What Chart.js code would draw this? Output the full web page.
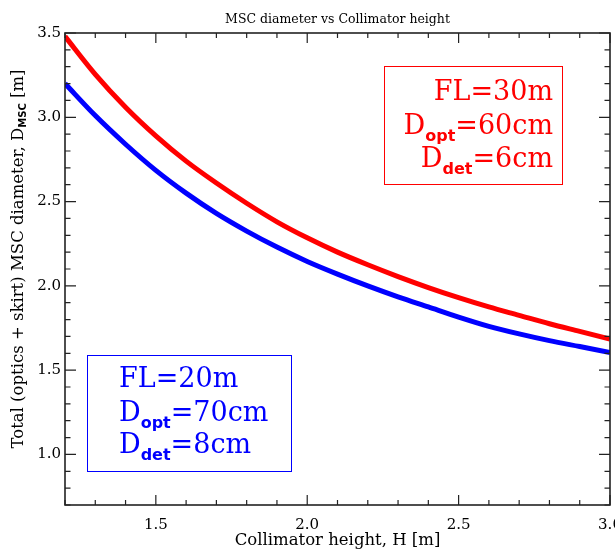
<!DOCTYPE html>
<html>
<head>
<meta charset="utf-8">
<title>MSC diameter vs Collimator height</title>
<script src="https://cdn.jsdelivr.net/npm/chart.js@4.4.0/dist/chart.umd.min.js"></script>
<style>
  html, body { margin: 0; padding: 0; background: #fff; overflow: hidden; }
</style>
</head>
<body>
<canvas id="mscChart" width="615" height="549"></canvas>
<script>
// collimator height H [m]
const heights = [1.2, 1.3, 1.4, 1.5, 1.6, 1.7, 1.8, 1.9, 2.0, 2.1,
                 2.2, 2.3, 2.4, 2.5, 2.6, 2.7, 2.8, 2.9, 3.0];

// total (optics + skirt) MSC diameter [m]
const dmscFL30 = [3.48, 3.255, 3.06, 2.89, 2.74, 2.61, 2.49, 2.38, 2.285, 2.20,
                  2.125, 2.055, 1.99, 1.93, 1.875, 1.825, 1.775, 1.73, 1.685];
const dmscFL20 = [3.20, 3.01, 2.84, 2.685, 2.55, 2.43, 2.325, 2.23, 2.145, 2.07,
                  2.00, 1.935, 1.875, 1.815, 1.76, 1.715, 1.675, 1.64, 1.605];

// text of the two parameter boxes: [text, subscript?]
const paramsFL30 = [
  [['FL=30m', false]],
  [['D', false], ['opt', true], ['=60cm', false]],
  [['D', false], ['det', true], ['=6cm', false]]
];
const paramsFL20 = [
  [['FL=20m', false]],
  [['D', false], ['opt', true], ['=70cm', false]],
  [['D', false], ['det', true], ['=8cm', false]]
];

const SERIF = "'DejaVu Serif', serif";
const AXIS = '#222';

function isMajor(v) {
  return Math.abs(v * 2 - Math.round(v * 2)) < 1e-6;
}
function majorLabel(v) {
  return isMajor(v) ? v.toFixed(1) : '';
}

// draws a line made of normal and subscript pieces, starting at x
function drawPieces(ctx, pieces, x, y, mainFont, subFont, subDrop) {
  pieces.forEach(([txt, sub]) => {
    ctx.font = sub ? subFont : mainFont;
    ctx.fillText(txt, x, sub ? y + subDrop : y);
    x += ctx.measureText(txt).width;
  });
}
function piecesWidth(ctx, pieces, mainFont, subFont) {
  let w = 0;
  pieces.forEach(([txt, sub]) => {
    ctx.font = sub ? subFont : mainFont;
    w += ctx.measureText(txt).width;
  });
  return w;
}

// box frame with ticks pointing inwards on all four sides
const frameTicks = {
  id: 'frameTicks',
  afterDatasetsDraw(chart) {
    const { ctx, chartArea: a, scales: { x, y } } = chart;
    ctx.save();
    ctx.strokeStyle = AXIS;
    ctx.lineWidth = 1.6;
    ctx.strokeRect(a.left, a.top, a.right - a.left, a.bottom - a.top);
    ctx.lineWidth = 1.2;
    ctx.beginPath();
    x.ticks.forEach(t => {
      const px = x.getPixelForValue(t.value);
      const len = t.label ? 10 : 5;
      ctx.moveTo(px, a.bottom); ctx.lineTo(px, a.bottom - len);
      ctx.moveTo(px, a.top); ctx.lineTo(px, a.top + len);
    });
    y.ticks.forEach(t => {
      const py = y.getPixelForValue(t.value);
      const len = t.label ? 11 : 5.5;
      ctx.moveTo(a.left, py); ctx.lineTo(a.left + len, py);
      ctx.moveTo(a.right, py); ctx.lineTo(a.right - len, py);
    });
    ctx.stroke();
    ctx.restore();
  }
};

// rotated y axis title with the MSC subscript
const yTitle = {
  id: 'yTitle',
  afterDraw(chart) {
    const { ctx, chartArea: a } = chart;
    const pieces = [['Total (optics + skirt) MSC diameter, D', false], ['MSC', true], [' [m]', false]];
    const mainFont = '16.5px ' + SERIF;
    const subFont = 'bold 10px DejaVu Sans';
    const w = piecesWidth(ctx, pieces, mainFont, subFont);
    ctx.save();
    ctx.translate(23, (a.top + a.bottom) / 2 - 10);
    ctx.rotate(-Math.PI / 2);
    ctx.fillStyle = '#000';
    ctx.textBaseline = 'alphabetic';
    drawPieces(ctx, pieces, -w / 2, 0, mainFont, subFont, 3);
    ctx.restore();
  }
};

// the FL / D_opt / D_det boxes
const paramBoxes = {
  id: 'paramBoxes',
  afterDraw(chart) {
    const { ctx } = chart;
    const mainFont = '27px ' + SERIF;
    const subFont = 'bold 16px DejaVu Sans';
    const boxes = [
      { color: '#ff0000', rect: [384, 66, 178, 118], align: 'right', x: 553, base: [100, 134, 167], lines: paramsFL30 },
      { color: '#0000ff', rect: [87, 355, 204, 116], align: 'left', x: 119, base: [387, 421, 453], lines: paramsFL20 }
    ];
    ctx.save();
    boxes.forEach(b => {
      ctx.strokeStyle = b.color;
      ctx.fillStyle = b.color;
      ctx.lineWidth = 1;
      ctx.strokeRect(b.rect[0] + 0.5, b.rect[1] + 0.5, b.rect[2], b.rect[3]);
      ctx.textBaseline = 'alphabetic';
      ctx.textAlign = 'left';
      b.lines.forEach((pieces, i) => {
        const w = piecesWidth(ctx, pieces, mainFont, subFont);
        const x0 = b.align === 'right' ? b.x - w : b.x;
        drawPieces(ctx, pieces, x0, b.base[i], mainFont, subFont, 7);
      });
    });
    ctx.restore();
  }
};

const toPoints = ys => heights.map((h, i) => ({ x: h, y: ys[i] }));

new Chart(document.getElementById('mscChart'), {
  type: 'line',
  data: {
    datasets: [
      { label: 'FL=30m', data: toPoints(dmscFL30), borderColor: '#ff0000', borderWidth: 5,
        pointRadius: 0, cubicInterpolationMode: 'monotone', fill: false },
      { label: 'FL=20m', data: toPoints(dmscFL20), borderColor: '#0000ff', borderWidth: 5,
        pointRadius: 0, cubicInterpolationMode: 'monotone', fill: false }
    ]
  },
  options: {
    responsive: false,
    animation: false,
    devicePixelRatio: 1,
    layout: { padding: { left: 0, right: 5, top: 0, bottom: 0 } },
    plugins: {
      legend: { display: false },
      tooltip: { enabled: false },
      title: {
        display: true,
        fullSize: false,
        text: 'MSC diameter vs Collimator height',
        color: '#000',
        font: { family: SERIF, size: 12.5, weight: 'normal' },
        padding: { top: 12, bottom: 6 }
      }
    },
    scales: {
      x: {
        type: 'linear',
        min: 1.2,
        max: 3.0,
        grid: { display: false, drawTicks: false },
        border: { display: false },
        ticks: {
          stepSize: 0.1, autoSkip: false, maxRotation: 0, padding: 11,
          color: '#000', font: { family: SERIF, size: 15 }, callback: majorLabel
        },
        title: {
          display: true, text: 'Collimator height, H [m]', color: '#000',
          font: { family: SERIF, size: 16.5 }, padding: { top: 0, bottom: -2 }
        },
        afterFit(s) { s.paddingRight = 0; s.height = 44; }
      },
      y: {
        type: 'linear',
        min: 0.7,
        max: 3.5,
        grid: { display: false, drawTicks: false },
        border: { display: false },
        ticks: {
          stepSize: 0.1, autoSkip: false, padding: 4,
          color: '#000', font: { family: SERIF, size: 15 }, callback: majorLabel
        },
        afterFit(s) { s.width = 65; }
      }
    }
  },
  plugins: [frameTicks, yTitle, paramBoxes]
});
</script>
</body>
</html>
